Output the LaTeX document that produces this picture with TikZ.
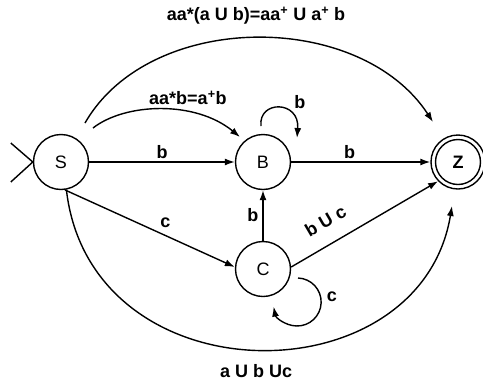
\documentclass[tikz,border=0pt]{standalone}
\usepackage{fontspec}
\setmainfont{Liberation Sans}
\usetikzlibrary{arrows.meta,calc}
\begin{document}
\begin{tikzpicture}[x=1pt,y=-1pt,
  state/.style={circle,draw,line width=1.4pt,minimum size=55pt,inner sep=0pt,
    font=\fontsize{18}{20}\selectfont},
  lbl/.style={font=\fontsize{18}{20}\selectfont\bfseries,inner sep=3pt},
  conn/.style={line width=1.4pt,-{Latex[length=10pt,width=7pt]}},
  plain/.style={line width=1.4pt}]
\useasboundingbox (0,0) rectangle (483,384);
% states
\node[state] (S) at (61,162) {S};
\node[state] (B) at (263,162) {B};
\node[state] (C) at (263,269) {C};
\node[state,minimum size=54pt,font=\fontsize{18}{20}\selectfont\bfseries] (Z) at (458,162) {Z};
\node[circle,draw,line width=1.4pt,minimum size=45pt,inner sep=0pt] (Zin) at (Z) {};
% helper coordinates
\coordinate (e1) at ($(S.west)+(-22,-19)$);
\coordinate (e2) at ($(S.west)+(-22,20)$);
\coordinate (t1) at ($(S)+(24,-39)$);
\coordinate (t2) at ($(Z)+(-25,-40)$);
\coordinate (a1) at ($(S)+(32,-34)$);
\coordinate (a2) at ($(B)+(-23,-25)$);
\coordinate (bl1) at ($(B)+(-2,-36)$);
\coordinate (bl2) at ($(B)+(34,-24)$);
\coordinate (cl1) at ($(C)+(35,9)$);
\coordinate (zb) at ($(Z)+(-6,44)$);
% start marker
\draw[plain] (e1) -- (S.west) -- (e2);
% top arc
\draw[conn] (t1) .. controls +(65,-113) and +(-73,-112) .. (t2)
  node[lbl,pos=0.5,above=10pt] {aa*(a U b)=aa\textsuperscript{+} U a\textsuperscript{+} b};
% aa*b arc
\draw[conn] (a1) .. controls +(32,-25) and +(-45,-37) .. (a2)
  node[lbl,pos=0.66,above=4pt] {aa*b=a\textsuperscript{+}b};
% B loop
\draw[conn] (bl1) .. controls +(-3,-26) and +(3,-38) .. (bl2)
  node[lbl,pos=0.6,above right=-2pt,xshift=8pt] {b};
% straight edges
\draw[conn] (S) -- (B) node[lbl,midway,above=0pt] {b};
\draw[conn] (B) -- (Z) node[lbl,pos=0.42,above=0pt] {b};
\draw[conn] (S.278) -- (C.176) node[lbl,pos=0.54,above right=0pt] {c};
\draw[conn] (C) -- (B) node[lbl,midway,left=1pt] {b};
\draw[conn] (C.4) -- (Z.224) node[lbl,pos=0.31,sloped,above=12pt] {b U c};
% C loop
\draw[conn] (cl1) arc[start angle=-88,end angle=169,radius=24];
\node[lbl] (clab) at ($(C)+(69,28)$) {c};
% bottom arc
\draw[conn] (S.281) .. controls +(24,210) and +(-32,194) .. (zb)
  node[lbl,pos=0.5,below=11pt] {a U b Uc};
\end{tikzpicture}
\end{document}
